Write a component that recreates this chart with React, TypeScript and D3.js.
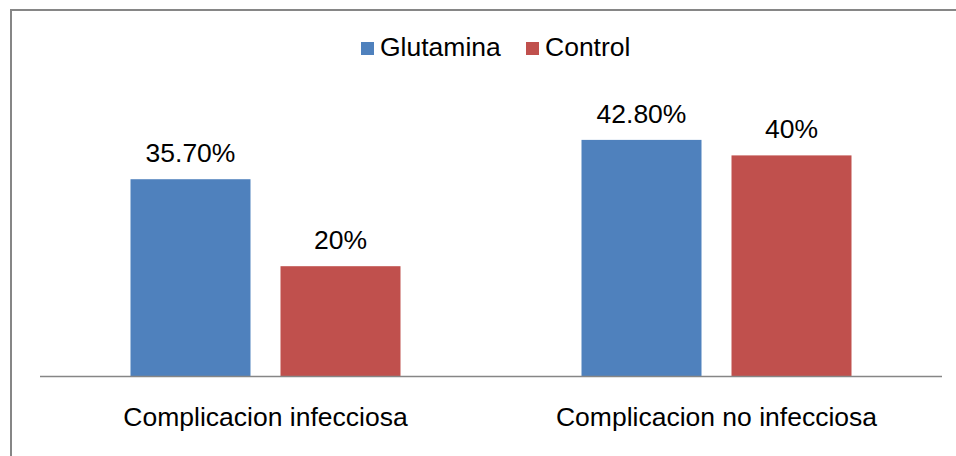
import { useEffect, useRef } from "react";
import * as d3 from "d3";

const categories = ["Complicacion infecciosa", "Complicacion no infecciosa"];
const seriesNames = ["Glutamina", "Control"];
const glutamina = [35.7, 42.8];
const control = [20, 40];
const valueLabels = [
  ["35.70%", "42.80%"],
  ["20%", "40%"],
];
const colors = ["#4F81BD", "#C0504D"];

const W = 956;
const H = 456;

const App = () => {
  const svgRef = useRef<SVGSVGElement>(null);

  useEffect(() => {
    const svg = d3.select(svgRef.current);
    svg.selectAll("*").remove();

    const font = "'Liberation Sans', Arial, sans-serif";
    const fontSize = 26.5;
    const values = [glutamina, control];

    // outer frame (only left and top edges are visible in the crop)
    svg
      .append("rect")
      .attr("x", 11)
      .attr("y", 10)
      .attr("width", W + 20)
      .attr("height", H + 20)
      .attr("fill", "#fff")
      .attr("stroke", "#868686")
      .attr("stroke-width", 2);

    const x0 = d3.scaleBand().domain(categories).range([40, 942]);
    const x1 = d3
      .scaleBand()
      .domain(seriesNames)
      .range([0, 270])
      .paddingInner(0.2);
    const groupOffset = (x0.bandwidth() - 270) / 2;

    const y = d3.scaleLinear().domain([0, 50]).range([377, 100]);

    // bars + value labels
    seriesNames.forEach((s, si) => {
      const g = svg.append("g");
      g.selectAll("rect")
        .data(categories)
        .enter()
        .append("rect")
        .attr("x", (c) => (x0(c) ?? 0) + groupOffset + (x1(s) ?? 0))
        .attr("y", (_c, i) => y(values[si][i]))
        .attr("width", x1.bandwidth())
        .attr("height", (_c, i) => y(0) - y(values[si][i]))
        .attr("fill", colors[si]);

      g.selectAll("text")
        .data(categories)
        .enter()
        .append("text")
        .attr(
          "x",
          (c) => (x0(c) ?? 0) + groupOffset + (x1(s) ?? 0) + x1.bandwidth() / 2
        )
        .attr("y", (_c, i) => y(values[si][i]) - 17)
        .attr("text-anchor", "middle")
        .attr("font-family", font)
        .attr("font-size", fontSize)
        .attr("fill", "#000")
        .text((_c, i) => valueLabels[si][i]);
    });

    // x axis line
    svg
      .append("line")
      .attr("x1", 40)
      .attr("x2", 942)
      .attr("y1", 376.5)
      .attr("y2", 376.5)
      .attr("stroke", "#868686")
      .attr("stroke-width", 1.5);

    // category labels
    svg
      .selectAll(".cat")
      .data(categories)
      .enter()
      .append("text")
      .attr("class", "cat")
      .attr("x", (c) => (x0(c) ?? 0) + x0.bandwidth() / 2)
      .attr("y", 426)
      .attr("text-anchor", "middle")
      .attr("font-family", font)
      .attr("font-size", fontSize)
      .attr("fill", "#000")
      .text((c) => c);

    // legend
    const legendX = [361, 526];
    const legend = svg
      .selectAll(".legend")
      .data(seriesNames)
      .enter()
      .append("g")
      .attr("class", "legend")
      .attr("transform", (_d, i) => `translate(${legendX[i]},42)`);
    legend
      .append("rect")
      .attr("width", 13)
      .attr("height", 13)
      .attr("fill", (_d, i) => colors[i]);
    legend
      .append("text")
      .attr("x", 19)
      .attr("y", 13.5)
      .attr("font-family", font)
      .attr("font-size", fontSize)
      .attr("fill", "#000")
      .text((d) => d);
  }, []);

  return (
    <svg
      ref={svgRef}
      width={W}
      height={H}
      style={{ position: "absolute", left: 0, top: 0, background: "#fff" }}
    />
  );
};

export default App;
